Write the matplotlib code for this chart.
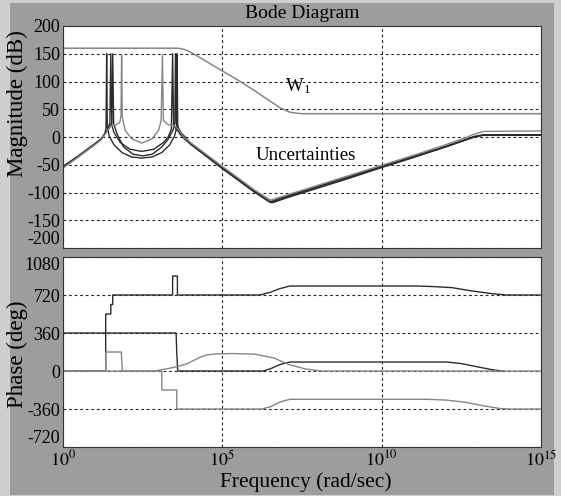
import numpy as np
import matplotlib
matplotlib.use("Agg")
import matplotlib.pyplot as plt
from matplotlib.patches import Rectangle

plt.rcParams['font.family'] = ['Liberation Serif', 'DejaVu Serif']
plt.rcParams['mathtext.fontset'] = 'stix'

# ---------------- data (x as log10 of frequency) ----------------
# Magnitude (dB)
w1_logw = [0, 3.6, 3.8, 4.0, 4.3, 5.0, 5.45, 6.0, 6.8, 7.1, 7.3, 7.5, 15]
w1_db = [160, 160, 158, 153, 143, 119, 104, 84, 53, 45, 43, 42, 42]

u1_logw = [0, 0.5, 1.0, 1.2, 1.3, 1.35, 1.37, 1.39, 1.45, 1.6, 1.85, 2.15, 2.47, 2.8,
           3.1, 3.35, 3.5, 3.56, 3.58, 3.60, 3.66, 3.8, 4.0, 4.5, 5.0, 5.5, 6.0, 6.5,
           6.6, 7.0, 8.0, 9.0, 10.0, 11.0, 12.0, 12.6, 12.9, 13.2, 15]
u1_db = [-54, -34, -13, -4, 4, 15, 150, 18, 2, -14, -28, -36, -38, -36,
         -28, -14, 2, 15, 150, 15, 6, -3, -13, -35, -57, -78, -99, -118,
         -118, -110, -92, -74, -55, -37, -18, -6, 0, 3, 3]

u2_logw = [0, 0.5, 1.0, 1.2, 1.3, 1.4, 1.47, 1.50, 1.53, 1.6, 1.8, 2.1, 2.47, 2.85,
           3.15, 3.3, 3.4, 3.44, 3.47, 3.55, 3.7, 3.85, 4.0, 5.0, 6.0, 6.55, 7.0,
           8.0, 9.0, 10.0, 11.0, 12.0, 12.6, 12.9, 13.2, 15]
u2_db = [-53, -33, -12, -3, 5, 14, 25, 150, 22, 8, -10, -22, -26, -22,
         -10, 0, 14, 150, 22, 14, 6, -2, -11, -55, -97, -116, -107,
         -89, -71, -53, -35, -17, -5, 1, 4, 4]

u3_logw = [0, 0.5, 1.0, 1.2, 1.3, 1.4, 1.5, 1.65, 1.78, 1.82, 1.84, 1.86, 1.95, 2.15,
           2.47, 2.8, 3.0, 3.08, 3.12, 3.15, 3.3, 3.5, 3.62, 3.8, 4.0, 5.0, 6.0, 6.5,
           7.0, 8.0, 9.0, 10.0, 11.0, 12.0, 12.6, 12.9, 13.2, 15]
u3_db = [-56, -35, -14, -5, 3, 12, 20, 22, 26, 38, 148, 36, 12, -3,
         -11, -3, 12, 30, 148, 30, 22, 20, 14, -1, -10, -53, -95, -114,
         -105, -87, -69, -51, -33, -14, -2, 5, 10, 11]

u4_logw = [0, 0.5, 1.0, 1.2, 1.3, 1.45, 1.53, 1.56, 1.59, 1.7, 1.9, 2.2, 2.5, 2.8,
           3.1, 3.3, 3.45, 3.51, 3.53, 3.56, 3.7, 3.85, 4.0, 5.0, 6.0, 6.55, 7.0,
           8.0, 9.0, 10.0, 11.0, 12.0, 12.6, 12.9, 13.2, 15]
u4_db = [-55, -35, -13, -4, 4, 16, 26, 150, 24, 5, -18, -31, -34, -31,
         -18, -4, 12, 26, 150, 24, 8, -1, -12, -56, -98, -117, -108,
         -90, -72, -54, -36, -18, -6, 0, 4, 4]

# Phase (deg)
p1_logw = [0, 3.55, 3.57, 3.60, 6.28, 6.5, 6.8, 7.12, 12.05, 12.5, 13.0, 13.5, 13.8]
p1_deg = [360, 360, 170, 0, 0, 20, 60, 85, 85, 70, 40, 10, 0]

p2_logw = [0, 1.34, 1.34, 1.50, 1.50, 1.56, 1.56, 3.44, 3.44, 3.59, 3.59, 6.18, 6.5,
           6.8, 7.12, 11.1, 11.6, 12.2, 12.8, 13.4, 13.9, 15]
p2_deg = [0, 0, 540, 540, 630, 630, 720, 720, 900, 900, 720, 720, 745,
          780, 805, 805, 800, 790, 760, 735, 720, 720]

p3_logw = [0, 1.34, 1.34, 1.83, 1.86, 3.10, 3.10, 3.57, 3.57, 6.23, 6.5, 6.8, 7.12,
           11.41, 12.0, 12.6, 13.2, 13.7, 14.0, 15]
p3_deg = [0, 0, 180, 180, 0, 0, -180, -180, -360, -360, -340, -295, -268,
          -268, -275, -295, -330, -355, -360, -360]

p4_logw = [0, 2.85, 3.1, 3.57, 3.9, 4.3, 4.5, 4.8, 5.3, 6.0, 6.6, 7.1, 7.6, 8.1, 15]
p4_deg = [0, 0, 12, 40, 70, 130, 152, 162, 165, 160, 125, 60, 20, 0, 0]

mag_ticks = [200, 150, 100, 50, 0, -50, -100, -150, -200]
phase_ticks = [1080, 720, 360, 0, -360, -720]
freq_ticks = [1e0, 1e5, 1e10, 1e15]
freq_labels = [r'$10^{0}$', r'$10^{5}$', r'$10^{10}$', r'$10^{15}$']

DARK = '#2b2b2b'
GRAY = '#858585'

W, H = 561, 496
fig = plt.figure(figsize=(W / 100, H / 100), dpi=100)
fig.patch.set_facecolor('#cfcfcf')
fig.add_artist(Rectangle((10 / W, 1 / H), (W - 17) / W, (H - 4) / H,
                         transform=fig.transFigure, facecolor='#9d9d9d',
                         edgecolor='none', zorder=-10))

ax1 = fig.add_axes([63 / W, 1 - 248 / H, 478 / W, 222 / H])
ax2 = fig.add_axes([63 / W, 1 - 447 / H, 478 / W, 190 / H])

def f(lw):
    return 10.0 ** np.asarray(lw, dtype=float)

ax1.plot(f(w1_logw), w1_db, color=GRAY, lw=1.1)
ax1.plot(f(u1_logw), u1_db, color=DARK, lw=1.0)
ax1.plot(f(u2_logw), u2_db, color=DARK, lw=1.0)
ax1.plot(f(u4_logw), u4_db, color=DARK, lw=1.0)
ax1.plot(f(u3_logw), u3_db, color=GRAY, lw=1.0)

ax2.plot(f(p2_logw), p2_deg, color=DARK, lw=1.0)
ax2.plot(f(p1_logw), p1_deg, color=DARK, lw=1.0)
ax2.plot(f(p3_logw), p3_deg, color=GRAY, lw=1.0)
ax2.plot(f(p4_logw), p4_deg, color=GRAY, lw=1.0)

for ax in (ax1, ax2):
    ax.set_xscale('log')
    ax.set_xlim(1e0, 1e15)
    ax.set_xticks(freq_ticks)
    ax.minorticks_off()
    ax.set_facecolor('white')
    ax.grid(True, linestyle=(0, (2.5, 2.5)), color='#222222', lw=0.8)
    ax.tick_params(direction='in', length=0, labelsize=13, pad=2)
    for s in ax.spines.values():
        s.set_color('#333333')
        s.set_linewidth(0.8)

ax1.set_ylim(-200, 200)
ax1.set_yticks(mag_ticks)
ax1.set_yticklabels([str(v) for v in mag_ticks])
ax1.set_xticklabels([])

ax2.set_ylim(-720, 1080)
ax2.set_yticks(phase_ticks)
ax2.set_yticklabels([str(v) for v in phase_ticks])
ax2.set_xticklabels(freq_labels, fontsize=13)

# edge labels nudged inside, as in the reference
for lab in ax1.get_yticklabels():
    if lab.get_text() == '-200':
        lab.set_verticalalignment('bottom')
for lab in ax2.get_yticklabels():
    if lab.get_text() == '1080':
        lab.set_verticalalignment('top')
    if lab.get_text() == '-720':
        lab.set_verticalalignment('bottom')

ax1.text(10 ** 6.97, 82, r'W$_{\mathregular{1}}$', fontsize=13.5, color='black')
ax1.text(10 ** 6.05, -33, 'Uncertainties', fontsize=13.5, color='black', va='center')

fig.text(302 / W, 1 - 13 / H, 'Bode Diagram', ha='center', va='center', fontsize=14)
fig.text(17 / W, 1 - 104 / H, 'Magnitude (dB)', rotation=90, ha='center', va='center', fontsize=16.5)
fig.text(17 / W, 1 - 354 / H, 'Phase (deg)', rotation=90, ha='center', va='center', fontsize=16.5)
fig.text(306 / W, 1 - 482 / H, 'Frequency (rad/sec)', ha='center', va='center', fontsize=15.5)

fig.savefig('out.png', dpi=100, facecolor=fig.get_facecolor())
